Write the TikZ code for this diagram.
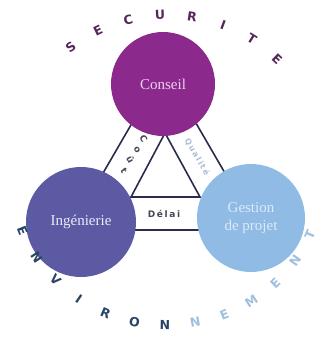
\documentclass[tikz,border=0pt]{standalone}
\usepackage{fontspec}
\setmainfont{Liberation Serif}
\newfontfamily\arcfont{DejaVu Sans}
\newfontfamily\lanefont[LetterSpace=18]{DejaVu Sans}
\usepackage{xcolor}
\definecolor{conseilfill}{RGB}{139,42,140}
\definecolor{conseiltext}{RGB}{240,208,240}
\definecolor{ingfill}{RGB}{91,90,163}
\definecolor{ingtext}{RGB}{236,236,248}
\definecolor{gestfill}{RGB}{143,187,229}
\definecolor{gesttext}{RGB}{222,234,248}
\definecolor{edgecol}{RGB}{43,43,80}
\definecolor{secu}{RGB}{86,38,90}
\definecolor{envdark}{RGB}{40,68,100}
\definecolor{envlight}{RGB}{160,192,224}
\definecolor{laneg}{RGB}{70,70,86}
\definecolor{lanelight}{RGB}{170,190,214}
\usepackage{tikz}
\usetikzlibrary{calc}
\tikzstyle{pole} = [
    circle, align=center,
    inner sep=0pt,
    font=\fontsize{15}{18}\selectfont,
]
\tikzstyle{conseil} = [
    pole,
    minimum size=104pt,
    fill=conseilfill,
    text=conseiltext,
]
\tikzstyle{ingenierie} = [
    pole,
    minimum size=110pt,
    fill=ingfill,
    text=ingtext,
]
\tikzstyle{gestion} = [
    pole,
    minimum size=108pt,
    fill=gestfill,
    text=gesttext,
]
\tikzstyle{edge} = [draw=edgecol, line width=1.6pt, line join=miter]
\tikzstyle{letter} = [
    inner sep=0pt,
    font=\arcfont\bfseries\fontsize{12.5}{12.5}\selectfont,
]
\tikzstyle{lane} = [
    inner sep=0pt,
    font=\lanefont\bfseries\fontsize{8}{8}\selectfont,
]

\begin{document}
\begin{tikzpicture}[x=1pt, y=-1pt]
    \useasboundingbox (0,0) rectangle (321,337);

    % triangle corners
    \coordinate (top) at (164,68);
    \coordinate (left) at (70,230);
    \coordinate (right) at (258,230);
    \coordinate (itop) at (165,133);
    \coordinate (ileft) at (131,197);
    \coordinate (iright) at (200,197);
    \coordinate (arc) at (167,175);

    % lanes
    \draw [edge] (top) -- (left) -- (right) -- cycle;
    \draw [edge] (itop) -- (ileft) -- (iright) -- cycle;

    % circles
    \node (conseil) at (163,84) [conseil] {Conseil};
    \node (ingenierie) at (81,222) [ingenierie] {Ingénierie};
    \node (gestion) at (251,218) [gestion] {Gestion\\de projet};

    % lane labels
    \foreach \ch[count=\x] in {C, o, û, t} {
        \node (cout\x) at (143.5-6.5*\x+6.5, 139+10.5*\x-10.5) [lane, text=laneg, rotate=-60, font=\lanefont\bfseries\fontsize{9}{9}\selectfont] {\ch};
    }
    \node (qualite) at (197,157) [lane, text=lanelight, rotate=-60] {Qualité};
    \node (delai) at (164,214) [lane, text=laneg, font=\lanefont\bfseries\fontsize{9}{9}\selectfont] {Délai};

    % arc letters
    \foreach \ch[count=\x] in {S, E, C, U, R, I, T, E} {
        \node (secu\x) at ($(arc)+(138.5-11.5*\x:160pt)$) [letter, text=secu, rotate=48.5-11.5*\x] {\ch};
    }
    \foreach \ch[count=\x] in {E, N, V, I, R, O, N, N, E, M, E, N, T} {
        \pgfmathsetmacro{\ang}{190.8+11.2*\x}
        \ifnum\x<8 \def\col{envdark}\else\def\col{envlight}\fi
        \node (env\x) at ($(arc)+({156*cos(\ang)},{-150*sin(\ang)})$) [letter, text=\col, rotate=\ang+90] {\ch};
    }
\end{tikzpicture}
\end{document}
